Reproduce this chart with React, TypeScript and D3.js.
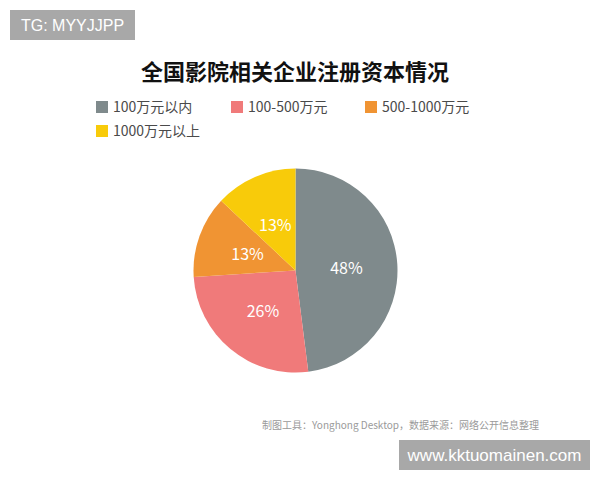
import React from "react";
import * as d3 from "d3";

const categories = ["100万元以内", "100-500万元", "500-1000万元", "1000万元以上"];
const values = [48, 26, 13, 13];
const colors = ["#7f8a8c", "#f07a7a", "#f09433", "#f8cb0a"];
const title = "全国影院相关企业注册资本情况";
const sourceText = "制图工具：Yonghong Desktop，数据来源：网络公开信息整理";

const W = 600;
const H = 480;
const cx = 295.5;
const cy = 270.5;
const R = 102;

export default function App() {
  const pie = d3.pie<number>().sort(null).value((d) => d);
  const arcs = pie(values);
  const arcGen = d3.arc<d3.PieArcDatum<number>>().innerRadius(0).outerRadius(R);
  const labelArc = d3.arc<d3.PieArcDatum<number>>().innerRadius(0).outerRadius(R);
  const total = d3.sum(values);

  const legendPos = [
    { x: 96, y: 107 },
    { x: 231, y: 107 },
    { x: 365, y: 107 },
    { x: 96, y: 131 },
  ];

  const cjk = "'Noto Sans CJK SC', 'Noto Sans', sans-serif";

  return (
    <svg
      width={W}
      height={H}
      style={{ position: "absolute", left: 0, top: 0, background: "#fff" }}
    >
      <rect x={10} y={10} width={125} height={30} fill="#a8a8a8" />
      <text x={72.5} y={31} textAnchor="middle" fill="#fff" fontSize={16} fontFamily="'Liberation Sans', Arial, sans-serif">
        TG: MYYJJPP
      </text>

      <text x={295} y={80} textAnchor="middle" fontSize={22} fontWeight="bold" fill="#111" fontFamily={cjk}>
        {title}
      </text>

      {categories.map((c, i) => (
        <g key={c}>
          <rect x={legendPos[i].x} y={legendPos[i].y - 6} width={12} height={12} fill={colors[i]} />
          <text x={legendPos[i].x + 17} y={legendPos[i].y + 5} fontSize={14} fill="#4a4a4a" fontFamily={cjk}>
            {c}
          </text>
        </g>
      ))}

      <g transform={`translate(${cx},${cy})`}>
        {arcs.map((a, i) => (
          <path key={i} d={arcGen(a) || ""} fill={colors[i]} />
        ))}
        {arcs.map((a, i) => {
          const [lx, ly] = labelArc.centroid(a);
          return (
            <text
              key={"l" + i}
              x={lx}
              y={ly}
              textAnchor="middle"
              dominantBaseline="central"
              fill="#fff"
              fontSize={16}
              fontFamily={cjk}
            >
              {Math.round((a.data / total) * 100)}%
            </text>
          );
        })}
      </g>

      <text x={262} y={429} fontSize={10} fill="#9a9a9a" fontFamily={cjk}>
        {sourceText}
      </text>

      <rect x={399} y={440} width={191} height={30} fill="#a8a8a8" />
      <text x={494.5} y={461} textAnchor="middle" fill="#fff" fontSize={17} fontFamily="'Liberation Sans', Arial, sans-serif">
        www.kktuomainen.com
      </text>
    </svg>
  );
}
